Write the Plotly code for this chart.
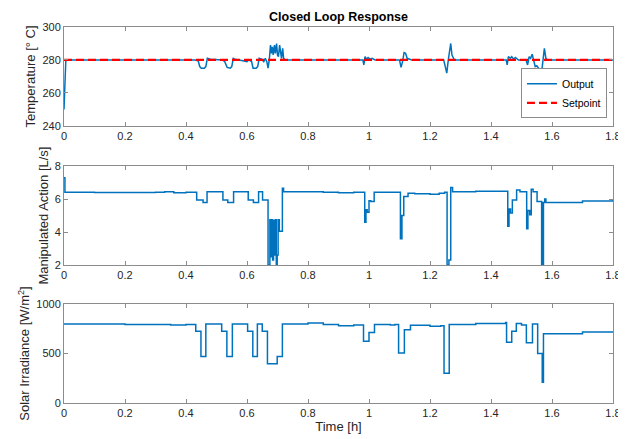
import plotly.graph_objects as go

# ---------------- data ----------------
x_ticks = [0, 0.2, 0.4, 0.6, 0.8, 1.0, 1.2, 1.4, 1.6, 1.8]
x_tick_labels = ["0", "0.2", "0.4", "0.6", "0.8", "1", "1.2", "1.4", "1.6", "1.8"]

setpoint_t = [0, 1.8]
setpoint_v = [280, 280]

temp_points = [
    (0, 250), (0.002, 262), (0.004, 276), (0.006, 280), (0.43, 280), (0.44, 279.5),
    (0.445, 276), (0.45, 275), (0.46, 275), (0.465, 276), (0.47, 281), (0.48, 280.5),
    (0.52, 280), (0.527, 279), (0.535, 275.5), (0.545, 275), (0.55, 276), (0.555, 281),
    (0.56, 280.5), (0.60, 279), (0.605, 280), (0.615, 279), (0.62, 275), (0.63, 275),
    (0.635, 276), (0.64, 281), (0.648, 280.5), (0.655, 279), (0.66, 281), (0.665, 279),
    (0.669, 275), (0.673, 280), (0.677, 289), (0.68, 284), (0.683, 288), (0.686, 283),
    (0.69, 289), (0.693, 284), (0.697, 290), (0.70, 283), (0.703, 282), (0.707, 289),
    (0.71, 285), (0.713, 281), (0.717, 287), (0.72, 281), (0.725, 280), (0.98, 280),
    (0.983, 277), (0.987, 282), (0.992, 280.5), (0.997, 281.5), (1.003, 280.5),
    (1.01, 281), (1.02, 280), (1.10, 280), (1.105, 275.5), (1.11, 279), (1.115, 284.5),
    (1.12, 284), (1.125, 281), (1.13, 280.5), (1.14, 280), (1.245, 280), (1.25, 276),
    (1.255, 272), (1.26, 280), (1.265, 289), (1.268, 290), (1.272, 283), (1.28, 280),
    (1.45, 280), (1.453, 277), (1.457, 282), (1.463, 281), (1.468, 282), (1.474, 280.5),
    (1.48, 281.5), (1.49, 280), (1.515, 280), (1.52, 277), (1.525, 282), (1.53, 281),
    (1.535, 283.5), (1.54, 279), (1.545, 276), (1.55, 276.5), (1.555, 275), (1.56, 274),
    (1.565, 271), (1.57, 279), (1.575, 287), (1.58, 281), (1.585, 280), (1.8, 280),
]

action_points = [
    (0, 7.3), (0.003, 6.42), (0.1, 6.40), (0.2, 6.40), (0.3, 6.42), (0.33, 6.45),
    (0.36, 6.38), (0.40, 6.42), (0.435, 5.95), (0.456, 5.8), (0.469, 6.45),
    (0.521, 5.95), (0.537, 5.8), (0.556, 6.45), (0.604, 5.95), (0.621, 5.8),
    (0.638, 6.45), (0.651, 5.95), (0.669, 2.0), (0.675, 4.75), (0.678, 2.5),
    (0.681, 4.75), (0.684, 2.3), (0.687, 4.7), (0.69, 2.6), (0.693, 4.75),
    (0.696, 2.0), (0.699, 2.6), (0.702, 4.75), (0.706, 4.05), (0.716, 6.65),
    (0.72, 6.45), (0.8, 6.45), (0.85, 6.42), (0.9, 6.38), (0.95, 6.42),
    (0.986, 4.6), (0.99, 5.35), (0.994, 5.2), (1.0, 5.9), (1.006, 5.85),
    (1.017, 6.42), (1.07, 6.42), (1.103, 3.6), (1.108, 5.0), (1.114, 6.15),
    (1.128, 6.35), (1.15, 6.32), (1.2, 6.3), (1.23, 6.35), (1.248, 6.42),
    (1.256, 2.0), (1.262, 2.3), (1.268, 6.7), (1.274, 6.45), (1.35, 6.48),
    (1.45, 6.48), (1.455, 4.35), (1.459, 5.4), (1.464, 5.15), (1.47, 5.95),
    (1.48, 5.95), (1.484, 6.55), (1.495, 6.45), (1.517, 4.2), (1.521, 5.3),
    (1.527, 5.05), (1.532, 6.6), (1.538, 6.45), (1.551, 5.85), (1.566, 2.0),
    (1.568, 5.8), (1.57, 2.0), (1.572, 5.8), (1.576, 6.0), (1.58, 5.8),
    (1.7, 5.88), (1.8, 5.97),
]

irradiance_points = [
    (0, 798), (0.2, 793), (0.3, 795), (0.35, 788), (0.4, 795), (0.432, 725),
    (0.449, 470), (0.465, 800), (0.517, 725), (0.534, 470), (0.552, 800),
    (0.602, 725), (0.619, 470), (0.634, 800), (0.650, 725), (0.667, 398),
    (0.699, 470), (0.716, 800), (0.8, 808), (0.85, 795), (0.9, 782), (0.95, 790),
    (0.982, 625), (1.0, 712), (1.018, 795), (1.07, 788), (1.085, 795),
    (1.097, 505), (1.116, 740), (1.136, 785), (1.2, 775), (1.235, 780),
    (1.246, 300), (1.263, 795), (1.35, 805), (1.448, 815), (1.451, 615),
    (1.468, 725), (1.483, 805), (1.5, 790), (1.516, 610), (1.536, 800),
    (1.553, 500), (1.568, 210), (1.572, 700), (1.7, 718), (1.8, 725),
]

temp_t = [p[0] for p in temp_points]
temp_v = [p[1] for p in temp_points]
act_t = [p[0] for p in action_points]
act_v = [p[1] for p in action_points]
irr_t = [p[0] for p in irradiance_points]
irr_v = [p[1] for p in irradiance_points]

BLUE = "#0072BD"
FONT = "Liberation Sans"
AX_COL = "#8c8c8c"
TXT_COL = "#262626"

fig = go.Figure()
fig.add_trace(go.Scatter(x=temp_t, y=temp_v, mode="lines", name="Output",
                         line=dict(color=BLUE, width=1.5), xaxis="x", yaxis="y"))
fig.add_trace(go.Scatter(x=setpoint_t, y=setpoint_v, mode="lines", name="Setpoint",
                         line=dict(color="#FF0000", width=2.2, dash="8px,4px"),
                         xaxis="x", yaxis="y"))
fig.add_trace(go.Scatter(x=act_t, y=act_v, mode="lines", showlegend=False,
                         line=dict(color=BLUE, width=1.5, shape="hv"),
                         xaxis="x2", yaxis="y2"))
fig.add_trace(go.Scatter(x=irr_t, y=irr_v, mode="lines", showlegend=False,
                         line=dict(color=BLUE, width=1.5, shape="hv"),
                         xaxis="x3", yaxis="y3"))

def xax(anchor):
    return dict(range=[0, 1.8], tickvals=x_ticks, ticktext=x_tick_labels,
                showline=True, linecolor=AX_COL, linewidth=1, mirror="ticks",
                ticks="inside", ticklen=4, tickcolor=AX_COL, showgrid=False,
                zeroline=False, anchor=anchor, automargin=False,
                tickfont=dict(family=FONT, size=11, color=TXT_COL))

def yax(rng, tv, title, domain, anchor):
    return dict(range=rng, tickvals=tv, domain=domain, anchor=anchor,
                showline=True, linecolor=AX_COL, linewidth=1, mirror="ticks",
                ticks="inside", ticklen=4, tickcolor=AX_COL, showgrid=False,
                zeroline=False, automargin=False,
                tickfont=dict(family=FONT, size=11, color=TXT_COL),
                title=dict(text=title, standoff=3,
                           font=dict(family=FONT, size=13, color=TXT_COL)))

# the page body adds an 8px offset, so the figure is sized to fit the window
fig.update_layout(
    width=618, height=431,
    margin=dict(l=56, r=13, t=19, b=36),
    paper_bgcolor="white", plot_bgcolor="white",
    font=dict(family=FONT, size=11, color=TXT_COL),
    title=dict(text="<b>Closed Loop Response</b>", x=0.5, xanchor="center",
               xref="paper", y=0.980, yanchor="middle",
               font=dict(family=FONT, size=12.5, color="#000000")),
    xaxis=xax("y"),
    yaxis=yax([240, 300], [240, 260, 280, 300], "Temperature [° C]", [0.737, 1.0], "x"),
    xaxis2=xax("y2"),
    yaxis2=yax([2, 8], [2, 4, 6, 8], "Manipulated Action [L/s]", [0.367, 0.630], "x2"),
    xaxis3=dict(xax("y3"), title=dict(text="Time [h]", standoff=2,
                                      font=dict(family=FONT, size=13, color=TXT_COL))),
    yaxis3=yax([0, 1000], [0, 500, 1000], "Solar Irradiance [W/m<sup>2</sup>]", [0.0, 0.263], "x3"),
    legend=dict(x=0.989, y=0.757, xanchor="right", yanchor="bottom",
                bgcolor="white", bordercolor=AX_COL, borderwidth=1,
                font=dict(family=FONT, size=10.5, color="#000000"),
                itemwidth=30, tracegroupgap=0),
    showlegend=True,
)

fig.write_html("out.html")
